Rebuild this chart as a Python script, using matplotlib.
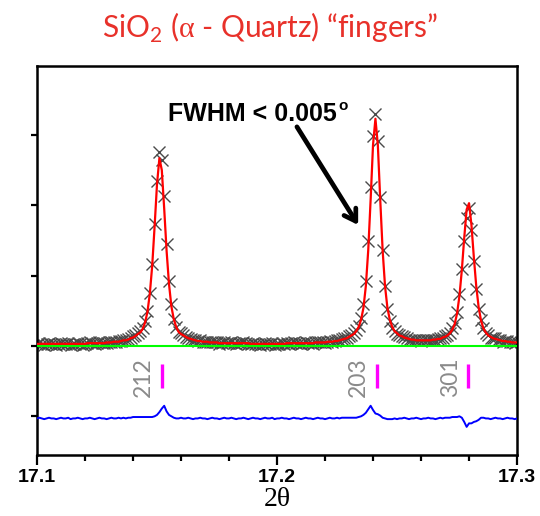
import matplotlib.pyplot as plt
import numpy as np

plt.rcParams['mathtext.fontset'] = 'custom'
plt.rcParams['mathtext.rm'] = 'Liberation Serif'
plt.rcParams['mathtext.sf'] = 'Lato'

# 2theta scan: 17.100 .. 17.300 deg, 0.001 deg step
two_theta_start = 17.100
two_theta_step = 0.001

# observed intensities (a.u.)
y_obs = [0.03, 0.04, 0.03, 0.02, 0.03, 0.04, 0.03, 0.03, 0.02, 0.03,
         0.04, 0.03, 0.03, 0.04, 0.02, 0.03, 0.03, 0.04, 0.03, 0.02,
         0.03, 0.04, 0.05, 0.04, 0.03, 0.04, 0.05, 0.04, 0.04, 0.04,
         0.05, 0.06, 0.06, 0.06, 0.07, 0.07, 0.09, 0.08, 0.10, 0.12,
         0.14, 0.16, 0.19, 0.21, 0.26, 0.35, 0.50, 0.76, 1.16, 1.73,
         2.35, 2.76, 2.64, 2.13, 1.45, 0.93, 0.59, 0.39, 0.27, 0.20,
         0.18, 0.15, 0.13, 0.12, 0.10, 0.08, 0.08, 0.07, 0.08, 0.06,
         0.06, 0.05, 0.05, 0.06, 0.05, 0.05, 0.03, 0.04, 0.05, 0.04,
         0.04, 0.05, 0.04, 0.03, 0.04, 0.04, 0.05, 0.04, 0.03, 0.03,
         0.04, 0.03, 0.03, 0.02, 0.03, 0.04, 0.03, 0.03, 0.04, 0.02,
         0.03, 0.03, 0.04, 0.03, 0.04, 0.03, 0.04, 0.05, 0.04, 0.04,
         0.03, 0.04, 0.05, 0.04, 0.04, 0.03, 0.05, 0.06, 0.05, 0.05,
         0.04, 0.06, 0.07, 0.06, 0.07, 0.08, 0.08, 0.10, 0.11, 0.12,
         0.14, 0.16, 0.18, 0.22, 0.29, 0.40, 0.59, 0.93, 1.49, 2.26,
         2.98, 3.30, 2.92, 2.12, 1.37, 0.85, 0.53, 0.36, 0.26, 0.21,
         0.17, 0.15, 0.14, 0.13, 0.11, 0.09, 0.09, 0.09, 0.09, 0.08,
         0.07, 0.08, 0.08, 0.09, 0.08, 0.09, 0.08, 0.10, 0.11, 0.12,
         0.14, 0.16, 0.19, 0.25, 0.33, 0.48, 0.74, 1.09, 1.49, 1.82,
         1.96, 1.65, 1.21, 0.81, 0.53, 0.37, 0.26, 0.19, 0.15, 0.12,
         0.11, 0.11, 0.09, 0.08, 0.06, 0.07, 0.07, 0.06, 0.05, 0.04,
         0.05]

# calculated profile (fit)
y_calc = [0.03, 0.03, 0.03, 0.03, 0.03, 0.03, 0.03, 0.03, 0.03, 0.03,
          0.03, 0.03, 0.03, 0.03, 0.03, 0.03, 0.03, 0.03, 0.03, 0.03,
          0.03, 0.04, 0.04, 0.04, 0.04, 0.04, 0.04, 0.04, 0.04, 0.05,
          0.05, 0.05, 0.06, 0.06, 0.06, 0.07, 0.08, 0.08, 0.09, 0.11,
          0.12, 0.14, 0.17, 0.19, 0.24, 0.33, 0.48, 0.74, 1.14, 1.70,
          2.30, 2.67, 2.50, 1.95, 1.35, 0.88, 0.56, 0.38, 0.27, 0.20,
          0.17, 0.15, 0.13, 0.11, 0.10, 0.09, 0.08, 0.07, 0.07, 0.06,
          0.06, 0.06, 0.05, 0.05, 0.05, 0.05, 0.04, 0.04, 0.04, 0.04,
          0.04, 0.04, 0.04, 0.04, 0.04, 0.04, 0.04, 0.04, 0.04, 0.03,
          0.03, 0.03, 0.03, 0.03, 0.03, 0.03, 0.03, 0.03, 0.03, 0.03,
          0.03, 0.03, 0.03, 0.03, 0.04, 0.04, 0.04, 0.04, 0.04, 0.04,
          0.04, 0.04, 0.04, 0.04, 0.04, 0.04, 0.05, 0.05, 0.05, 0.05,
          0.05, 0.06, 0.06, 0.06, 0.07, 0.07, 0.08, 0.09, 0.10, 0.11,
          0.13, 0.15, 0.17, 0.21, 0.27, 0.37, 0.54, 0.85, 1.36, 2.08,
          2.86, 3.23, 2.86, 2.08, 1.36, 0.85, 0.54, 0.37, 0.27, 0.21,
          0.18, 0.15, 0.14, 0.12, 0.11, 0.10, 0.09, 0.09, 0.08, 0.08,
          0.08, 0.08, 0.08, 0.08, 0.08, 0.09, 0.09, 0.10, 0.10, 0.12,
          0.13, 0.15, 0.18, 0.23, 0.31, 0.46, 0.71, 1.08, 1.54, 1.94,
          2.03, 1.72, 1.26, 0.85, 0.55, 0.36, 0.25, 0.19, 0.15, 0.13,
          0.11, 0.10, 0.09, 0.08, 0.07, 0.07, 0.06, 0.06, 0.05, 0.05,
          0.05]

# reflection positions and indices
reflections = [17.152, 17.2417, 17.2797]
hkl = ['212', '203', '301']

diff_offset = -1.03

two_theta = np.round(two_theta_start + two_theta_step * np.arange(len(y_obs)), 3)
y_obs = np.array(y_obs)
y_calc = np.array(y_calc)
y_diff = y_obs - y_calc + diff_offset

fig = plt.figure(figsize=(5.4, 5.16), dpi=100)
ax = fig.add_axes([0.0685, 0.1182, 0.889, 0.7539])

ax.plot(two_theta, y_obs, linestyle='none', marker='x', markersize=9, markeredgewidth=1.0,
        color='#4a4a4a', zorder=2)
ax.axhline(0, color='#00ff00', lw=1.5, zorder=3)
ax.plot(two_theta, y_calc, color='#ff0000', lw=1.6, zorder=4)
ax.plot(two_theta, y_diff, color='#0000ff', lw=1.4, zorder=4)

# reflection tick marks + hkl labels
ax.vlines(reflections, -0.60, -0.25, color='#ff00ff', lw=2.4, zorder=4)
for pos, lab in zip(reflections, hkl):
    ax.text(pos - 0.0076, -0.44, lab, rotation=90, ha='center', va='center',
            fontsize=16.5, color='#8a8a8a', family='Lato')

# FWHM annotation
fwhm = ax.text(17.1545, 3.20, 'FWHM < 0.005', fontsize=18, fontweight='bold',
               family='Liberation Sans', ha='left', va='baseline')
ax.annotate('o', xy=(1.0, 1.0), xycoords=fwhm, xytext=(1, 2), textcoords='offset points',
            ha='left', va='top', fontsize=11, fontweight='bold', family='Liberation Sans')
ax.annotate('', xy=(17.2338, 1.72), xytext=(17.2083, 3.115),
            arrowprops=dict(arrowstyle='->, head_length=0.8, head_width=0.5', lw=3.4,
                            color='black', shrinkA=0, shrinkB=0))

ax.set_xlim(17.1, 17.3)
ax.set_ylim(-1.55, 3.98)
ax.set_xticks([17.1, 17.2, 17.3])
ax.set_xticklabels(['17.1', '17.2', '17.3'])
ax.set_xticks(np.arange(17.1, 17.3001, 0.02), minor=True)
ax.set_yticks([-1, 0, 1, 2, 3])
ax.set_yticklabels([])
ax.tick_params(axis='x', which='major', direction='out', length=7, width=1.6, pad=3,
               labelsize=14)
ax.tick_params(axis='x', which='minor', direction='out', length=4, width=1.6)
ax.tick_params(axis='y', direction='out', length=4, width=1.6)
for lab in ax.get_xticklabels():
    lab.set_fontweight('bold')
    lab.set_family('Liberation Sans')
for sp in ax.spines.values():
    sp.set_linewidth(1.8)

ax.set_xlabel('2θ', fontsize=20, family='Liberation Serif', labelpad=1)

fig.text(0.5, 0.926, r'SiO$_\mathsf{2}$ ($\mathrm{\alpha}$ - Quartz) “fingers”', ha='center',
         va='baseline', fontsize=21.5, color='#e8312a', family='Lato')

fig.savefig('out.png', dpi=100)
